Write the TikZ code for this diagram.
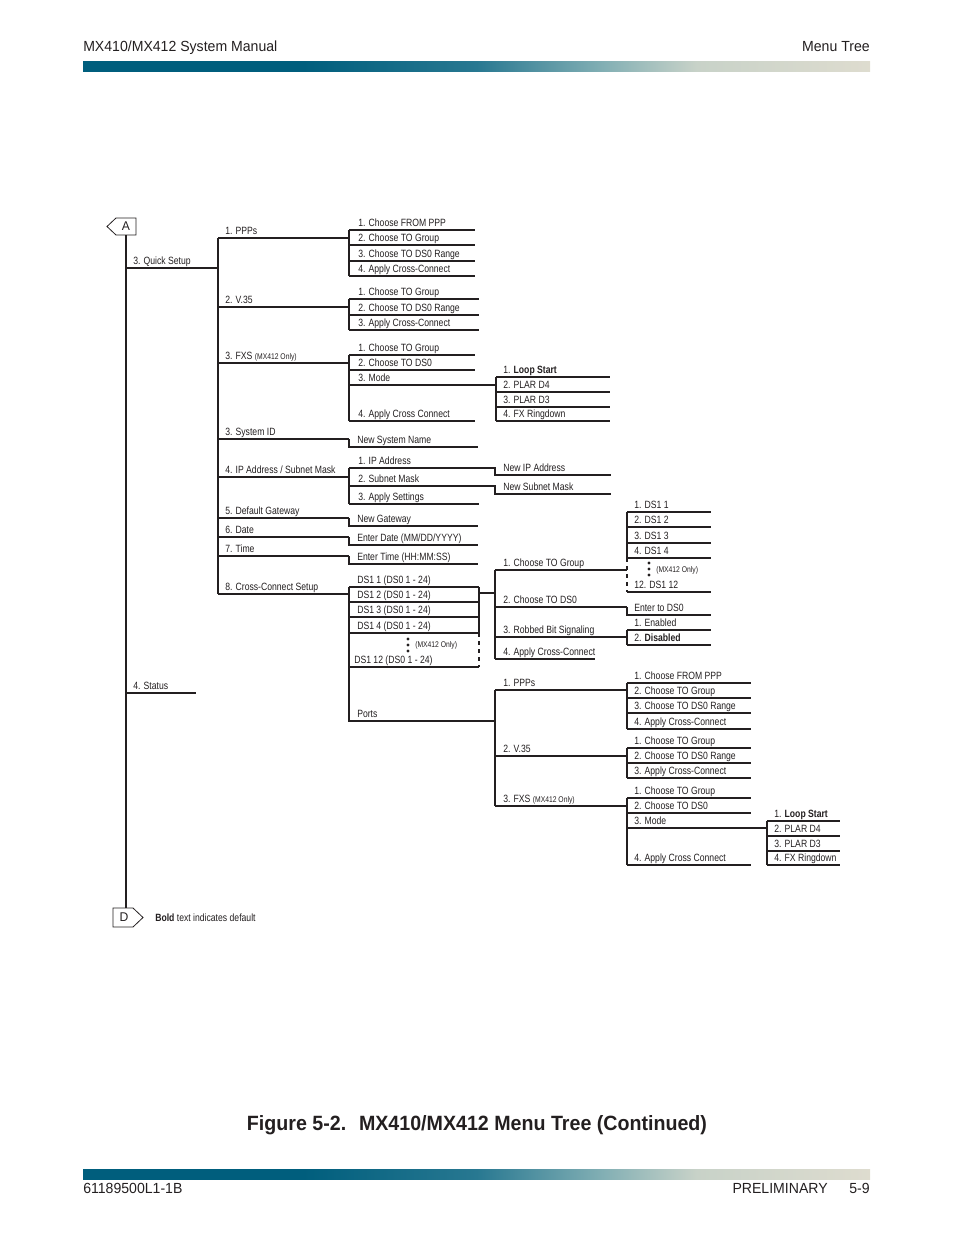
\documentclass[tikz,border=0pt]{standalone}
\usepackage{fontspec}
\setmainfont{Liberation Sans}
\newfontfamily\lblfont{Liberation Sans}[FakeStretch=0.82]
\newfontfamily\hdrfont{Liberation Sans}[FakeStretch=0.96]
\newfontfamily\capfont{Liberation Sans}[FakeStretch=0.95]
\newcommand{\lblsize}{\lblfont\fontsize{7.9}{9.5}\selectfont}
\newcommand{\onlysize}{\lblfont\fontsize{6.2}{7.5}\selectfont}
\newcommand{\hdrsize}{\hdrfont\fontsize{11}{13}\selectfont}
\newcommand{\capsize}{\capfont\bfseries\fontsize{15.5}{18}\selectfont}
\newcommand{\tagsize}{\hdrfont\fontsize{9.5}{11}\selectfont}
\definecolor{Ink}{RGB}{35,31,32}
\definecolor{BarDark}{RGB}{0,94,125}
\definecolor{BarTeal}{RGB}{40,120,145}
\definecolor{BarMid}{RGB}{130,175,180}
\definecolor{BarPale}{RGB}{200,210,200}
\definecolor{BarLight}{RGB}{222,220,207}
\pgfdeclarehorizontalshading{barshade}{100bp}{color(0bp)=(BarDark); color(25bp)=(BarDark); color(39bp)=(BarDark); color(50bp)=(BarTeal); color(58bp)=(BarMid); color(64bp)=(BarPale); color(75bp)=(BarLight); color(100bp)=(BarLight)}

\begin{document}
\begin{tikzpicture}[x=0.75pt, y=-0.75pt, every node/.style={inner sep=0pt, text=Ink}]
  \tikzstyle{lbl}=[anchor=base west, font=\lblsize]
  \tikzstyle{tinylbl}=[anchor=base west, font=\onlysize]
  \tikzstyle{rule}=[line width=0.8pt, draw=Ink]
  \tikzstyle{tagline}=[line width=0.6pt, draw=Ink]
  \useasboundingbox (0,0) rectangle (954,1235);

  \node[anchor=base west, font=\hdrsize] (hdl) at (83,51) {MX410/MX412 System Manual};
  \node[anchor=base east, font=\hdrsize] (hdr) at (870,51) {Menu Tree};
  \shade[shading=barshade] (83,61) rectangle (870,71);
  \shade[shading=barshade] (83,1169) rectangle (870,1179);
  \node[anchor=base west, font=\hdrsize] (ftl) at (83,1193) {61189500L1-1B};
  \node[anchor=base east, font=\hdrsize] (ftm) at (828,1193) {PRELIMINARY};
  \node[anchor=base east, font=\hdrsize] (ftr) at (870,1193) {5-9};
  \node[anchor=base, font=\capsize] (cap) at (477,1130) {Figure 5-2.~ MX410/MX412 Menu Tree (Continued)};

  \draw[tagline] (116,218) -- (136,218) -- (136,235) -- (116,235) -- (107,226.5) -- cycle;
  \node[font=\tagsize] (tagA) at (126,226.5) {A};
  \draw[tagline] (113,908) -- (133,908) -- (143,917.5) -- (133,927) -- (113,927) -- cycle;
  \node[font=\tagsize] (tagD) at (124,917.5) {D};
  \node[lbl] (note) at (155,921) {\textbf{Bold} text indicates default};
  \coordinate (abot) at (126,235);
  \coordinate (dtop) at (126,908);
  \draw[rule] (abot) -- (dtop);

  \node[lbl] (qs) at (133,264) {3. Quick Setup};
  \draw[rule] (126,268) -- (218,268);
  \node[lbl] (st) at (133,689) {4. Status};
  \draw[rule] (126,693) -- (196,693);

  \foreach \u/\t [count=\i] in {238/1. PPPs, 307/2. V.35, 363/{3. FXS {\onlysize(MX412 Only)}}, 439/3. System ID, 477/{4. IP Address / Subnet Mask}, 518/5. Default Gateway, 537/6. Date, 556/7. Time, 594/8. Cross-Connect Setup}
    {\node[lbl] (m\i) at (225,\u-4) {\t}; \draw[rule] (218,\u) -- (349,\u);}
  \draw[rule] (218,238) -- (218,594);

  \foreach \u/\t [count=\i] in {230/1. Choose FROM PPP, 245/2. Choose TO Group, 261/3. Choose TO DS0 Range, 276/4. Apply Cross-Connect}
    {\node[lbl] (pa\i) at (358,\u-4) {\t}; \draw[rule] (349,\u) -- (475,\u);}
  \draw[rule] (349,230) -- (349,276);

  \foreach \u/\t [count=\i] in {299/1. Choose TO Group, 315/2. Choose TO DS0 Range, 330/3. Apply Cross-Connect}
    {\node[lbl] (va\i) at (358,\u-4) {\t}; \draw[rule] (349,\u) -- (479,\u);}
  \draw[rule] (349,299) -- (349,330);

  \foreach \u/\t [count=\i] in {355/1. Choose TO Group, 370/2. Choose TO DS0, 385/3. Mode, 421/4. Apply Cross Connect}
    {\node[lbl] (fa\i) at (358,\u-4) {\t}; \draw[rule] (349,\u) -- (475,\u);}
  \draw[rule] (349,355) -- (349,421) (475,385) -- (496,385);

  \foreach \u/\t [count=\i] in {377/1. \textbf{Loop Start}, 392/2. PLAR D4, 407/3. PLAR D3, 421/4. FX Ringdown}
    {\node[lbl] (la\i) at (503,\u-4) {\t}; \draw[rule] (496,\u) -- (610,\u);}
  \draw[rule] (496,377) -- (496,421);

  \node[lbl] (sysname) at (357,443) {New System Name};
  \draw[rule] (349,439) -- (349,447) -- (478,447);

  \foreach \u/\t [count=\i] in {468/1. IP Address, 486/2. Subnet Mask, 504/3. Apply Settings}
    {\node[lbl] (ia\i) at (358,\u-4) {\t}; \draw[rule] (349,\u) -- (479,\u);}
  \draw[rule] (349,468) -- (349,504);
  \draw[rule] (479,468) -- (495,468) -- (495,475) -- (611,475);
  \draw[rule] (479,486) -- (495,486) -- (495,494) -- (611,494);
  \node[lbl] (newip) at (503,471) {New IP Address};
  \node[lbl] (newmask) at (503,490) {New Subnet Mask};

  \foreach \u/\t [count=\i] in {518/New Gateway, 537/{Enter Date (MM/DD/YYYY)}, 556/{Enter Time (HH:MM:SS)}}
    {\node[lbl] (ea\i) at (357,\u+4) {\t}; \draw[rule] (349,\u) -- (349,\u+8) -- (478,\u+8);}

  \foreach \u/\t [count=\i] in {587/DS1 1 (DS0 1 - 24), 602/DS1 2 (DS0 1 - 24), 617/DS1 3 (DS0 1 - 24), 633/DS1 4 (DS0 1 - 24)}
    {\node[lbl] (da\i) at (357,\u-4) {\t}; \draw[rule] (349,\u) -- (479,\u);}
  \node[lbl] (da12) at (354,663) {DS1 12 (DS0 1 - 24)};
  \draw[rule] (349,667) -- (479,667);
  \draw[rule] (349,587) -- (349,721) -- (495,721);
  \draw[rule] (479,587) -- (479,633) (479,593) -- (495,593);
  \draw[rule, dashed] (479,633) -- (479,667);
  \node[lbl] (ports) at (357,717) {Ports};
  \foreach \d in {639,645,651} \fill[Ink] (408,\d) circle (1.6);
  \node[tinylbl] (dnote) at (415,647.5) {(MX412 Only)};

  \foreach \u/\t/\r [count=\i] in {570/1. Choose TO Group/627, 607/2. Choose TO DS0/627, 637/3. Robbed Bit Signaling/627, 659/4. Apply Cross-Connect/595}
    {\node[lbl] (ca\i) at (503,\u-4) {\t}; \draw[rule] (495,\u) -- (\r,\u);}
  \draw[rule] (495,570) -- (495,659);
  \node[lbl] (ds0) at (634,611) {Enter to DS0};
  \draw[rule] (627,607) -- (627,615) -- (711,615);

  \foreach \u/\t [count=\i] in {512/1. DS1 1, 527/2. DS1 2, 543/3. DS1 3, 558/4. DS1 4}
    {\node[lbl] (ra\i) at (634,\u-4) {\t}; \draw[rule] (627,\u) -- (711,\u);}
  \node[lbl] (ra12) at (634,588) {12. DS1 12};
  \draw[rule] (627,512) -- (627,558) (627,592) -- (711,592);
  \draw[rule, dashed] (627,558) -- (627,592);
  \foreach \d in {563,569,575} \fill[Ink] (649,\d) circle (1.6);
  \node[tinylbl] (rnote) at (656,572) {(MX412 Only)};

  \foreach \u/\t [count=\i] in {630/1. Enabled, 645/2. \textbf{Disabled}}
    {\node[lbl] (ba\i) at (634,\u-4) {\t}; \draw[rule] (627,\u) -- (711,\u);}
  \draw[rule] (627,630) -- (627,645);

  \foreach \u/\t [count=\i] in {690/1. PPPs, 756/2. V.35, 806/{3. FXS {\onlysize(MX412 Only)}}}
    {\node[lbl] (pt\i) at (503,\u-4) {\t}; \draw[rule] (495,\u) -- (627,\u);}
  \draw[rule] (495,690) -- (495,806);

  \foreach \u/\t [count=\i] in {683/1. Choose FROM PPP, 698/2. Choose TO Group, 713/3. Choose TO DS0 Range, 729/4. Apply Cross-Connect}
    {\node[lbl] (pb\i) at (634,\u-4) {\t}; \draw[rule] (627,\u) -- (751,\u);}
  \draw[rule] (627,683) -- (627,729);

  \foreach \u/\t [count=\i] in {748/1. Choose TO Group, 763/2. Choose TO DS0 Range, 778/3. Apply Cross-Connect}
    {\node[lbl] (vb\i) at (634,\u-4) {\t}; \draw[rule] (627,\u) -- (751,\u);}
  \draw[rule] (627,748) -- (627,778);

  \foreach \u/\t [count=\i] in {798/1. Choose TO Group, 813/2. Choose TO DS0, 828/3. Mode, 865/4. Apply Cross Connect}
    {\node[lbl] (fb\i) at (634,\u-4) {\t}; \draw[rule] (627,\u) -- (751,\u);}
  \draw[rule] (627,798) -- (627,865) (751,828) -- (767,828);

  \foreach \u/\t [count=\i] in {821/1. \textbf{Loop Start}, 836/2. PLAR D4, 851/3. PLAR D3, 865/4. FX Ringdown}
    {\node[lbl] (lb\i) at (774,\u-4) {\t}; \draw[rule] (767,\u) -- (840,\u);}
  \draw[rule] (767,821) -- (767,865);
\end{tikzpicture}
\end{document}
